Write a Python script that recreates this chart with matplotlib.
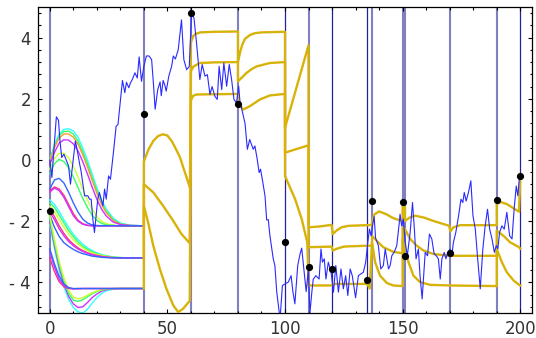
import numpy as np
from matplotlib import pyplot as plt

# noisy observed path
blue_x = [0.0, 0.9, 2.8, 3.7, 4.4, 5.1, 6.0, 6.9, 8.0, 8.8, 9.8, 10.9, 11.6, 12.6, 13.3, 14.8, 16.2,
          16.9, 17.6, 18.3, 19.0, 19.7, 20.4, 21.1, 22.6, 23.3, 24.0, 25.0, 25.8, 27.0, 28.2, 29.0,
          30.1, 30.9, 31.9, 32.6, 33.6, 34.3, 35.2, 36.2, 37.2, 38.0, 39.0, 40.0, 41.1, 42.2, 43.3,
          44.0, 44.8, 45.9, 46.9, 47.4, 48.2, 48.9, 49.5, 50.6, 51.8, 52.5, 53.4, 54.6, 56.0, 57.0,
          58.2, 59.3, 60.3, 61.3, 62.4, 63.8, 64.8, 66.0, 67.0, 68.1, 69.0, 70.2, 71.2, 72.0, 73.1,
          74.0, 75.2, 76.3, 77.3, 78.3, 79.4, 80.3, 80.9, 82.0, 83.0, 84.0, 85.0, 86.5, 87.2, 88.2,
          89.0, 89.6, 90.5, 91.5, 92.2, 92.9, 93.6, 95.0, 95.7, 96.5, 97.9, 98.9, 100.0, 101.4,
          102.6, 103.3, 104.2, 105.4, 106.4, 107.1, 108.0, 109.0, 109.9, 110.6, 111.4, 112.0,
          113.1, 114.5, 115.3, 115.9, 116.7, 117.4, 118.4, 119.6, 120.6, 121.6, 122.7, 123.8,
          124.8, 125.8, 126.7, 127.7, 128.6, 130.0, 131.2, 132.3, 133.3, 134.3, 135.2, 135.9,
          136.6, 137.3, 137.9, 138.5, 139.7, 140.7, 141.8, 142.6, 143.3, 144.0, 144.7, 145.4,
          146.5, 147.5, 148.6, 148.9, 149.6, 150.3, 151.1, 152.0, 153.2, 154.2, 155.0, 155.7,
          156.7, 157.4, 158.3, 159.6, 160.6, 161.4, 162.4, 163.4, 164.3, 165.2, 166.0, 166.7,
          167.7, 168.4, 169.2, 170.2, 170.9, 171.6, 172.6, 173.8, 174.8, 175.6, 176.2, 177.0,
          178.0, 179.0, 179.9, 180.9, 181.8, 183.0, 184.1, 185.1, 186.1, 187.0, 188.0, 189.0,
          189.8, 190.5, 191.2, 192.2, 193.2, 194.3, 195.5, 196.5, 197.4, 198.3, 199.0, 199.7]
blue_y = [0.0, -0.57, 1.41, 1.3, 0.57, 0.08, 0.19, 0.02, -0.2, -0.79, -0.1, 0.62, 0.35, -0.09, -0.36,
          -1.17, -1.17, -1.28, -1.28, -1.93, -2.37, -1.82, -1.28, -1.06, -1.5, -0.95, -1.28, -0.52,
          -0.63, 0.2, 1.1, 1.16, 1.98, 2.6, 2.2, 2.54, 2.36, 2.52, 2.65, 2.85, 2.68, 3.37, 2.57,
          3.06, 3.4, 3.4, 3.28, 2.57, 1.66, 2.3, 2.55, 2.1, 2.6, 2.45, 2.25, 2.74, 3.06, 3.4, 3.3,
          3.6, 4.58, 3.28, 2.95, 3.06, 4.8, 4.64, 3.82, 2.63, 3.12, 2.74, 2.79, 2.14, 2.4, 2.08,
          1.98, 3.06, 2.3, 3.17, 2.41, 3.12, 2.63, 1.98, 1.87, 2.41, 1.87, 1.54, 1.2, 0.35, 0.67,
          0.35, 0.46, 0.02, -0.41, -0.3, -0.7, -1.17, -1.96, -1.95, -2.48, -3.23, -3.45, -4.32,
          -5.2, -4.1, -4.05, -3.99, -3.78, -4.27, -4.7, -3.45, -3.07, -2.88, -3.55, -4.3, -3.6,
          -5.0, -4.32, -3.9, -3.78, -3.89, -2.91, -3.34, -3.23, -3.89, -3.34, -3.67, -4.32, -3.45,
          -4.32, -3.56, -4.21, -3.78, -4.43, -3.56, -3.78, -4.5, -3.78, -3.72, -3.67, -3.34, -2.69,
          -2.26, -2.48, -2.1, -1.85, -2.55, -2.8, -3.56, -3.45, -2.91, -3.23, -3.56, -3.45, -3.13,
          -3.0, -2.8, -2.04, -1.77, -2.15, -1.93, -2.69, -3.13, -2.37, -1.39, -2.26, -3.23, -2.91,
          -3.78, -4.54, -3.02, -3.13, -2.42, -2.58, -3.07, -3.13, -3.23, -3.89, -3.23, -3.02,
          -3.23, -3.02, -2.91, -3.13, -2.69, -2.37, -1.82, -1.28, -1.39, -1.06, -1.34, -1.06,
          -0.68, -1.82, -2.26, -3.13, -4.21, -2.91, -2.15, -1.61, -2.26, -2.58, -3.02, -2.8, -2.9,
          -2.37, -2.15, -2.26, -1.71, -2.48, -2.58, -1.61, -0.85, -1.17, -0.52]

# switch times and the value marked at each switch
switch_light = [0, 40, 60, 80, 110, 137, 150, 151, 170, 190]
switch_dark = [100, 120, 135, 200]
dot_x = [0, 40, 60, 80, 100, 110, 120, 135, 137, 150, 151, 170, 190, 200]
dot_y = [-1.66, 1.51, 4.8, 1.84, -2.67, -3.49, -3.56, -3.92, -1.33, -1.37, -3.15, -3.04, -1.31, -0.52]

# filtered curves after the first switch (three of them)
top_x = [40, 40, 42, 44, 46, 48, 50, 52, 54, 55.3, 57, 58.9, 59.6, 60, 61, 62, 64, 70, 80,
         80, 81, 82, 83, 85, 87, 90, 100, 100, 110, 110, 115, 119.8, 120.3, 121, 122, 124, 127,
         135, 137, 137, 138, 140, 143, 146, 150, 150, 151, 151, 153, 155.3, 159, 163, 169.8,
         170.3, 171.6, 174.5, 190, 190, 191.5, 194.3, 197.2, 199.5, 200]
top_y = [-2.15, -0.05, 0.35, 0.62, 0.78, 0.84, 0.8, 0.6, 0.3, 0.1, -0.3, -0.74, -0.9, 3.85, 4.05,
         4.12, 4.17, 4.19, 4.2, 3.2, 3.55, 3.8, 3.96, 4.08, 4.14, 4.17, 4.19, 1.05, 3.75, -2.2,
         -2.17, -2.12, -2.42, -2.37, -2.3, -2.2, -2.15, -2.13, -2.12, -2.0, -1.78, -1.68, -1.77,
         -1.9, -2.0, -1.44, -1.55, -1.99, -1.88, -1.82, -1.88, -1.99, -2.15, -2.33, -2.2, -2.13,
         -2.13, -1.44, -1.37, -1.44, -1.58, -1.69, -0.55]
mid_x = [40, 40, 44, 48.2, 52.5, 56, 59.5, 60, 61, 63.8, 70, 80, 80, 82, 83.7, 86, 88, 93.6,
         100, 100, 110, 110, 119.8, 120.3, 122, 125, 135, 137, 137, 139, 141.8, 146, 150, 150,
         151, 153.2, 156, 158.9, 163, 170, 180, 190, 190, 192.9, 195.7, 199.5, 200]
mid_y = [-3.2, -0.79, -1.06, -1.5, -1.99, -2.42, -2.72, 2.9, 3.05, 3.17, 3.19, 3.2, 2.57, 2.72,
         2.85, 2.98, 3.06, 3.17, 3.2, 0.24, 0.48, -2.85, -2.83, -2.96, -2.9, -2.83, -2.8, -2.8,
         -2.48, -2.64, -2.85, -3.0, -3.05, -2.2, -2.26, -2.58, -2.8, -2.96, -3.07, -3.13, -3.13,
         -3.13, -2.31, -2.48, -2.69, -2.85, -2.9]
bot_x = [40, 40, 41.8, 44, 46.8, 49.6, 52.5, 54.6, 56.7, 59.5, 60, 61, 62.4, 80, 80, 82.3, 85.1,
         89.4, 93.6, 100, 100, 104.3, 107.1, 109.5, 110, 120, 121, 135, 136, 137, 138.3, 140.4,
         143.3, 146, 150, 150, 151, 152.5, 154.6, 157.4, 161.7, 170, 190, 190, 192.2, 194.3,
         197.2, 199.5, 200]
bot_y = [-4.2, -1.5, -2.04, -2.8, -3.56, -4.21, -4.75, -4.97, -4.86, -4.6, 1.95, 2.1, 2.14, 2.16,
         1.87, 1.65, 1.76, 1.98, 2.11, 2.16, -0.52, -1.28, -1.93, -2.7, -4.1, -4.1, -4.05, -4.05,
         -4.2, -2.69, -3.34, -3.78, -4.02, -4.1, -4.12, -2.6, -2.91, -3.34, -3.78, -3.99, -4.08,
         -4.1, -4.12, -2.91, -3.34, -3.67, -3.94, -4.08, -4.1]

# family of curves in the first interval, one colour per parameter value
rb_x = [0, 2, 4, 6, 8, 10, 12, 14, 16, 18, 20, 22, 24, 27, 30, 34, 40]
hi_cyan = [0.0, 0.5, 0.85, 1.0, 1.02, 0.95, 0.75, 0.4, 0.0, -0.45, -0.9, -1.3, -1.6, -1.9, -2.06, -2.13, -2.15]
hi_green = [0.0, 0.45, 0.8, 0.93, 0.94, 0.85, 0.62, 0.28, -0.12, -0.57, -1.0, -1.38, -1.67, -1.95, -2.08, -2.14, -2.15]
hi_orange = [-0.05, 0.4, 0.72, 0.85, 0.85, 0.75, 0.52, 0.18, -0.22, -0.66, -1.08, -1.45, -1.72, -1.98, -2.1, -2.14, -2.15]
hi_magenta = [-0.15, 0.25, 0.55, 0.66, 0.65, 0.53, 0.3, -0.05, -0.45, -0.88, -1.28, -1.6, -1.83, -2.03, -2.11, -2.14, -2.15]
hi_yellow = [-0.3, 0.05, 0.22, 0.22, 0.08, -0.2, -0.55, -0.95, -1.3, -1.6, -1.85, -2.0, -2.08, -2.13, -2.15, -2.15, -2.15]
hi_green2 = [-0.45, -0.12, 0.02, -0.05, -0.25, -0.55, -0.9, -1.25, -1.55, -1.8, -1.97, -2.07, -2.12, -2.14, -2.15, -2.15, -2.15]
hi_blue = [-0.95, -0.65, -0.6, -0.75, -1.05, -1.4, -1.7, -1.93, -2.06, -2.12, -2.14, -2.15, -2.15, -2.15, -2.15, -2.15, -2.15]
hi_red = [-1.0, -0.88, -0.95, -1.15, -1.45, -1.75, -1.97, -2.08, -2.13, -2.15, -2.15, -2.15, -2.15, -2.15, -2.15, -2.15, -2.15]
hi_magenta2 = [-1.05, -0.92, -1.0, -1.22, -1.52, -1.82, -2.0, -2.1, -2.14, -2.15, -2.15, -2.15, -2.15, -2.15, -2.15, -2.15, -2.15]
md_blue = [-1.8, -2.2, -2.5, -2.7, -2.82, -2.92, -3.0, -3.06, -3.1, -3.14, -3.16, -3.18, -3.19, -3.2, -3.2, -3.2, -3.2]
md_red = [-1.6, -1.85, -2.15, -2.4, -2.6, -2.75, -2.87, -2.96, -3.03, -3.08, -3.12, -3.15, -3.17, -3.19, -3.2, -3.2, -3.2]
md_magenta = [-1.7, -1.95, -2.25, -2.48, -2.66, -2.8, -2.91, -2.99, -3.05, -3.1, -3.13, -3.16, -3.18, -3.19, -3.2, -3.2, -3.2]
md_green = [-1.4, -1.55, -1.8, -2.05, -2.3, -2.5, -2.68, -2.82, -2.92, -3.0, -3.06, -3.11, -3.14, -3.17, -3.19, -3.2, -3.2]
md_yellow = [-1.5, -1.7, -1.95, -2.2, -2.42, -2.6, -2.75, -2.87, -2.96, -3.03, -3.08, -3.12, -3.15, -3.18, -3.19, -3.2, -3.2]
md_cyan = [-1.3, -1.45, -1.68, -1.95, -2.2, -2.42, -2.6, -2.75, -2.87, -2.96, -3.03, -3.09, -3.13, -3.17, -3.19, -3.2, -3.2]
lo_blue = [-2.9, -3.4, -3.8, -4.05, -4.17, -4.2, -4.2, -4.2, -4.2, -4.2, -4.2, -4.2, -4.2, -4.2, -4.2, -4.2, -4.2]
lo_magenta = [-3.0, -3.5, -3.9, -4.1, -4.19, -4.21, -4.21, -4.2, -4.2, -4.2, -4.2, -4.2, -4.2, -4.2, -4.2, -4.2, -4.2]
lo_red = [-3.2, -3.65, -3.98, -4.14, -4.2, -4.21, -4.2, -4.2, -4.2, -4.2, -4.2, -4.2, -4.2, -4.2, -4.2, -4.2, -4.2]
lo_yellow = [-1.8, -2.6, -3.3, -3.85, -4.25, -4.48, -4.54, -4.5, -4.42, -4.34, -4.28, -4.24, -4.22, -4.2, -4.2, -4.2, -4.2]
lo_green = [-1.9, -2.7, -3.4, -3.95, -4.35, -4.58, -4.62, -4.57, -4.47, -4.37, -4.3, -4.25, -4.22, -4.2, -4.2, -4.2, -4.2]
lo_magenta2 = [-2.0, -2.8, -3.5, -4.05, -4.45, -4.7, -4.82, -4.8, -4.66, -4.5, -4.38, -4.29, -4.24, -4.21, -4.2, -4.2, -4.2]
lo_cyan = [-2.1, -2.9, -3.6, -4.15, -4.55, -4.82, -4.96, -5.0, -4.88, -4.68, -4.5, -4.36, -4.28, -4.22, -4.2, -4.2, -4.2]

C_BLUE = '#3366ff'
C_MAG = '#cc33ff'
C_RED = '#ff3377'
C_ORANGE = '#ff9933'
C_YELLOW = '#ccff33'
C_GREEN = '#33ff66'
C_CYAN = '#33ffff'


def draw_family(ax):
    family = [(md_cyan, C_CYAN), (md_green, C_GREEN), (md_yellow, C_YELLOW), (md_red, C_RED),
              (md_magenta, C_MAG), (md_blue, C_BLUE),
              (lo_cyan, C_CYAN), (lo_magenta2, C_MAG), (lo_green, C_GREEN), (lo_yellow, C_YELLOW),
              (lo_red, C_RED), (lo_magenta, C_MAG), (lo_blue, C_BLUE),
              (hi_cyan, C_CYAN), (hi_green, C_GREEN), (hi_orange, C_ORANGE), (hi_magenta, C_MAG),
              (hi_yellow, C_YELLOW), (hi_green2, C_GREEN), (hi_red, C_RED), (hi_magenta2, C_MAG),
              (hi_blue, C_BLUE)]
    for ys, c in family:
        ax.plot(rb_x, ys, color=c, lw=1.0, zorder=2)


def draw_filtered(ax):
    # orange underneath, yellow-green core on top (overlapping hues in the original)
    for xs, ys in [(top_x, top_y), (mid_x, mid_y), (bot_x, bot_y)]:
        ax.plot(xs, ys, color='#ffa31a', lw=1.7, zorder=3, solid_joinstyle='round')
        ax.plot(xs, ys, color='#b9c200', lw=0.9, zorder=3, solid_joinstyle='round')


def main():
    fig = plt.figure(figsize=(5.36, 3.38), dpi=100)
    ax = fig.add_axes([38 / 536, 25 / 338, 494 / 536, 306 / 338])

    for s in switch_light:
        ax.axvline(s, color='#8080c0', lw=1.5, zorder=1)
    for s in switch_dark:
        ax.axvline(s, color='#22229a', lw=0.9, zorder=1)

    draw_family(ax)
    draw_filtered(ax)
    ax.plot(blue_x, blue_y, color='#2a2aff', lw=0.8, zorder=4)
    ax.scatter(dot_x, dot_y, s=27, color='black', zorder=5, linewidths=0)

    ax.set_xlim(-5, 205)
    ax.set_ylim(-5, 5)
    ax.set_xticks([0, 50, 100, 150, 200])
    ax.set_xticks(np.arange(0, 201, 10), minor=True)
    ax.set_yticks([-4, -2, 0, 2, 4])
    ax.set_yticklabels(['- 4', '- 2', '0', '2', '4'])
    ax.set_yticks(np.arange(-4.8, 4.81, 0.4), minor=True)
    ax.tick_params(which='both', direction='in', top=True, right=True, labelsize=12,
                   labelcolor='#333333', width=0.8)
    ax.tick_params(which='major', length=3.2, pad=5)
    ax.tick_params(which='minor', length=1.8)
    for sp in ax.spines.values():
        sp.set_linewidth(0.9)

    fig.savefig('out.png', dpi=100)


if __name__ == '__main__':
    main()
